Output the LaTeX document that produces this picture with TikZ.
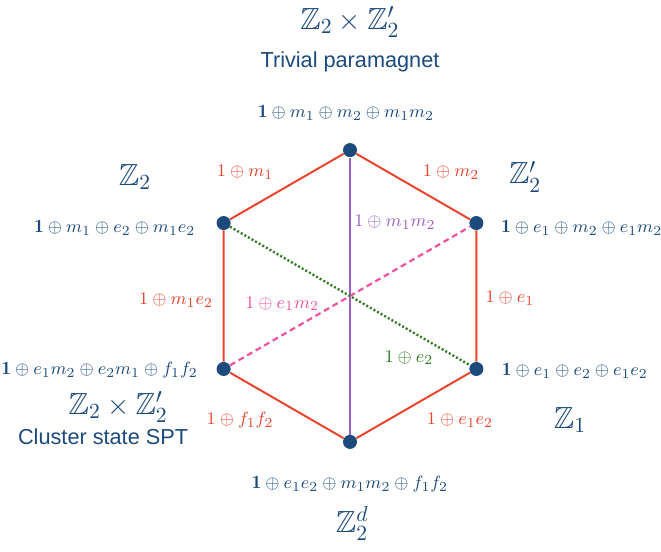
\documentclass[tikz,border=0pt]{standalone}
\usepackage{amsmath,amssymb}
\usepackage{fontspec}
\setsansfont{Liberation Sans}
\usepackage{xcolor}
\definecolor{navy}{HTML}{1C4A7C}
\definecolor{hexred}{HTML}{E8432C}
\definecolor{hexpurple}{HTML}{9B5FC4}
\definecolor{hexpink}{HTML}{F050A0}
\definecolor{hexgreen}{HTML}{2E7A1E}

\begin{document}
\begin{tikzpicture}[
  vert/.style={circle,fill=navy,inner sep=0pt,minimum size=0.25cm},
  hexedge/.style={draw=hexred,line width=1pt},
  vlabel/.style={text=navy,font=\fontsize{9.5}{11}\selectfont},
  elabel/.style={font=\fontsize{9.5}{11}\selectfont},
  grp/.style={text=navy,font=\fontsize{15.5}{18}\selectfont},
  phase/.style={text=navy,font=\sffamily\fontsize{11}{13}\selectfont}
]
\useasboundingbox (-6.237,-4.544) rectangle (5.542,5.275);
% vertices of the hexagon
\node[vert] (t) at (90:2.6) {};
\node[vert] (ul) at (150:2.6) {};
\node[vert] (ur) at (30:2.6) {};
\node[vert] (ll) at (210:2.6) {};
\node[vert] (lr) at (-30:2.6) {};
\node[vert] (b) at (-90:2.6) {};
% edges and diagonals
\draw[hexedge] (t) -- (ur) -- (lr) -- (b) -- (ll) -- (ul) -- (t);
\draw[hexpurple,line width=1pt] (t) -- (b);
\draw[hexpink,line width=1.1pt,dash pattern=on 3pt off 2pt] (ll) -- (ur);
\draw[hexgreen,line width=1.2pt,dash pattern=on 1pt off 1.1pt] (ul) -- (lr);
% vertex labels
\node[vlabel] (tl) at (-0.07,3.26) {$\mathbf{1}\oplus m_1\oplus m_2\oplus m_1m_2$};
\node[vlabel] (ull) at (-4.19,1.21) {$\mathbf{1}\oplus m_1\oplus e_2\oplus m_1e_2$};
\node[vlabel] (url) at (4.13,1.21) {$\mathbf{1}\oplus e_1\oplus m_2\oplus e_1m_2$};
\node[vlabel] (lll) at (-4.46,-1.32) {$\mathbf{1}\oplus e_1m_2\oplus e_2m_1\oplus f_1f_2$};
\node[vlabel] (lrl) at (4.01,-1.34) {$\mathbf{1}\oplus e_1\oplus e_2\oplus e_1e_2$};
\node[vlabel] (bl) at (0,-3.35) {$\mathbf{1}\oplus e_1e_2\oplus m_1m_2\oplus f_1f_2$};
% edge labels
\node[elabel,text=hexred] (e1) at (-1.87,2.21) {$1\oplus m_1$};
\node[elabel,text=hexred] (e2) at (1.80,2.21) {$1\oplus m_2$};
\node[elabel,text=hexred] (e3) at (-3.10,-0.07) {$1\oplus m_1e_2$};
\node[elabel,text=hexred] (e4) at (2.85,-0.04) {$1\oplus e_1$};
\node[elabel,text=hexred] (e5) at (-1.96,-2.21) {$1\oplus f_1f_2$};
\node[elabel,text=hexred] (e6) at (1.96,-2.21) {$1\oplus e_1e_2$};
\node[elabel,text=hexpurple] (d1) at (0.80,1.32) {$1\oplus m_1m_2$};
\node[elabel,text=hexpink] (d2) at (-1.21,-0.14) {$1\oplus e_1m_2$};
\node[elabel,text=hexgreen] (d3) at (1.05,-1.10) {$1\oplus e_2$};
% symmetry groups and phases
\node[grp] (g1) at (0,4.88) {$\mathbb{Z}_2\times\mathbb{Z}_2'$};
\node[phase] (p1) at (0,4.17) {Trivial paramagnet};
\node[grp] (g2) at (-3.83,2.12) {$\mathbb{Z}_2$};
\node[grp] (g3) at (3.12,2.12) {$\mathbb{Z}_2'$};
\node[grp] (g4) at (-4.13,-1.98) {$\mathbb{Z}_2\times\mathbb{Z}_2'$};
\node[phase] (p2) at (-4.40,-2.51) {Cluster state SPT};
\node[grp] (g5) at (3.92,-2.21) {$\mathbb{Z}_1$};
\node[grp] (g6) at (0.04,-4.06) {$\mathbb{Z}_2^d$};
\end{tikzpicture}
\end{document}
